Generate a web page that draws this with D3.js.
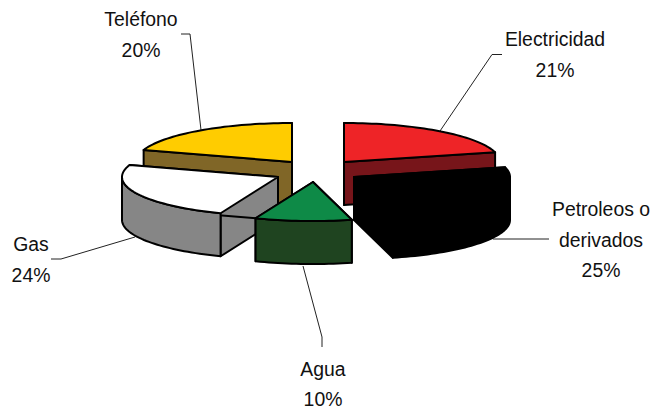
<!DOCTYPE html>
<html>
<head>
<meta charset="utf-8">
<script src="https://cdn.jsdelivr.net/npm/d3@7"></script>
<style>
  html, body { margin: 0; background: #fff; }
  text { font-family: "Liberation Sans", Arial, sans-serif; font-size: 19.4px; fill: #111; }
</style>
</head>
<body>
<div id="chart"></div>
<script>
let width = 653
let height = 409

// values, clockwise from 12 o'clock
let names = ['Electricidad', 'Petroleos o derivados', 'Agua', 'Gas', 'Teléfono']
let percents = [21, 25, 10, 24, 20]

let topColors = ['#ee2427', '#000000', '#0e8a47', '#ffffff', '#ffcc00']
let sideColors = ['#77151a', '#000000', '#1f4420', '#868686', '#806627']

// exploded centre of each slice
let centers = [[344, 162], [354, 177], [313, 182], [278, 177], [292, 162]]

// label lines per slice, then the lines of the leader
let labelLines = [['Electricidad', '21%'], ['Petroleos o', 'derivados', '25%'], ['Agua', '10%'], ['Gas', '24%'], ['Teléfono', '20%']]
let labelPos = [[555, 46], [601, 216], [323, 375.5], [31, 250.5], [141, 26]]
let lineGap = [30.5, 30.5, 30.5, 31, 30.5]
let leaders = [
  [[502, 54.5], [492, 54.5], [440, 131]],
  [[549, 239], [493, 239]],
  [[303, 266], [322, 337], [322, 347]],
  [[51, 259], [61, 259], [135, 237]],
  [[181, 34], [190, 34], [201, 130]]
]

let rx = 156
let ry = 39
let depth = 43
let drawOrder = [4, 0, 3, 1, 2]

let svg = d3
  .select('#chart')
  .append('svg')
  .attr('width', width)
  .attr('height', height)
  .style('display', 'block')

let arcs = d3
  .pie()
  .sort(null)(percents)

// flat pie tilted onto the page: unit circle to an ellipse
let xScale = d3.scaleLinear().domain([-1, 1]).range([-rx, rx])
let yScale = d3.scaleLinear().domain([-1, 1]).range([ry, -ry])

function rimPoint(center, angle, drop) {
  return [
    center[0] + xScale(Math.sin(angle)),
    center[1] + yScale(Math.cos(angle)) + drop
  ]
}

function rimPoints(center, a0, a1, drop) {
  let n = Math.max(2, Math.ceil(Math.abs(a1 - a0) / 0.03))
  return d3.range(n + 1).map(i => rimPoint(center, a0 + ((a1 - a0) * i) / n, drop))
}

let line = d3.line()

function face(g, points, color) {
  g.append('path')
    .attr('d', line(points) + 'Z')
    .attr('fill', color)
    .attr('stroke', '#000')
    .attr('stroke-width', 2)
    .attr('stroke-linejoin', 'round')
}

// leader lines sit under the slices
svg
  .selectAll('.leader')
  .data(leaders)
  .enter()
  .append('path')
  .attr('class', 'leader')
  .attr('d', d => line(d))
  .attr('fill', 'none')
  .attr('stroke', '#222')
  .attr('stroke-width', 1)

drawOrder.forEach(i => {
  let d = arcs[i]
  let c = centers[i]
  let g = svg.append('g').attr('class', 'slice')
  let down = [c[0], c[1] + depth]

  let start = rimPoint(c, d.startAngle, 0)
  let end = rimPoint(c, d.endAngle, 0)

  // the two cut faces
  face(g, [c, start, rimPoint(c, d.startAngle, depth), down], sideColors[i])
  face(g, [c, end, rimPoint(c, d.endAngle, depth), down], sideColors[i])

  // outer wall, only the part turned to the viewer
  let a0 = Math.max(d.startAngle, Math.PI / 2)
  let a1 = Math.min(d.endAngle, (3 * Math.PI) / 2)
  if (a1 > a0) {
    let upper = rimPoints(c, a0, a1, 0)
    let lower = rimPoints(c, a1, a0, depth)
    face(g, upper.concat(lower), sideColors[i])
  }

  face(g, [c].concat(rimPoints(c, d.startAngle, d.endAngle, 0)), topColors[i])
})

svg
  .selectAll('.label')
  .data(labelLines)
  .enter()
  .append('text')
  .attr('class', 'label')
  .attr('text-anchor', 'middle')
  .each(function(d, i) {
    d3.select(this)
      .selectAll('tspan')
      .data(d)
      .enter()
      .append('tspan')
      .attr('x', labelPos[i][0])
      .attr('y', (t, k) => labelPos[i][1] + k * lineGap[i])
      .text(t => t)
  })
</script>
</body>
</html>
